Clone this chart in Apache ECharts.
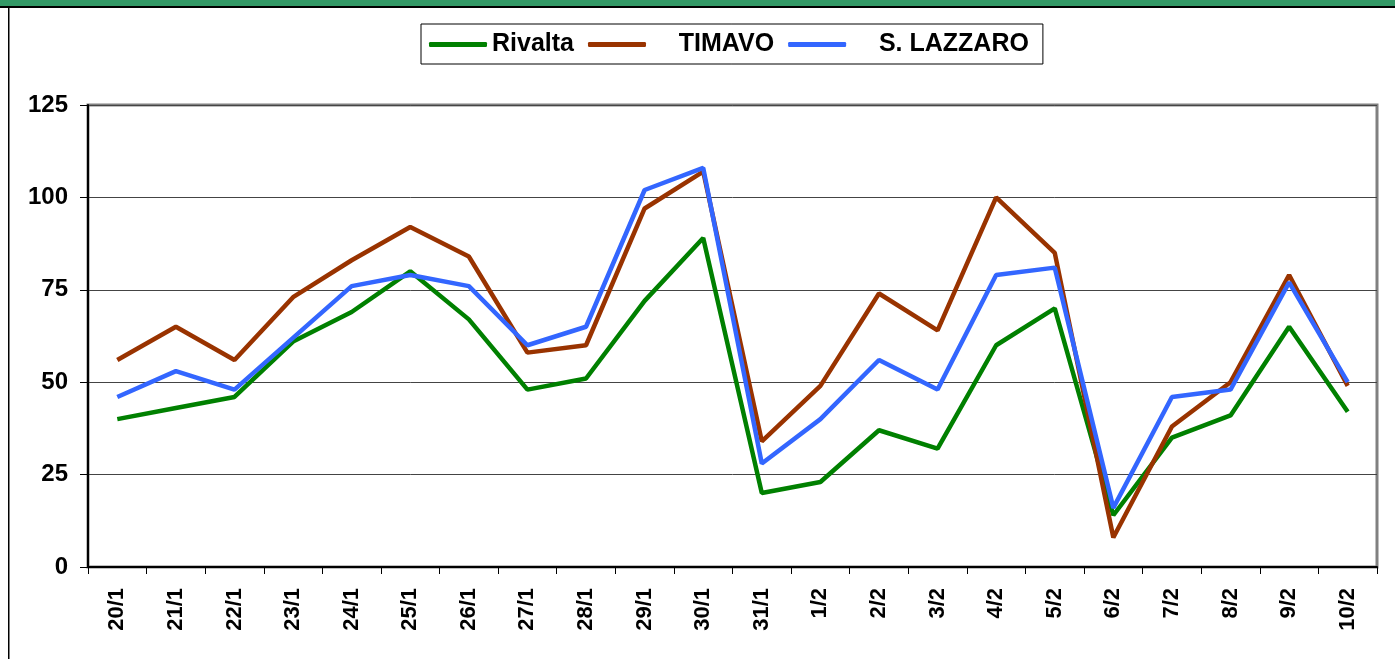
<!DOCTYPE html>
<html lang="it">
<head>
<meta charset="UTF-8">
<title>Rivalta / TIMAVO / S. LAZZARO</title>
<style>
    html, body { margin: 0; padding: 0; background: #fff; }
    #main { width: 1395px; height: 659px; }
</style>
</head>
<body>
<div id="main"></div>
<script src="https://cdn.jsdelivr.net/npm/echarts@6/dist/echarts.min.js"></script>
<script>
    // dati
    var giorni = ['20/1','21/1','22/1','23/1','24/1','25/1','26/1','27/1','28/1','29/1','30/1','31/1',
                  '1/2','2/2','3/2','4/2','5/2','6/2','7/2','8/2','9/2','10/2'];
    var rivalta   = [40, 43, 46, 61, 69, 80, 67, 48, 51, 72, 89, 20, 23, 37, 32, 60, 70, 14, 35, 41, 65, 42];
    var timavo    = [56, 65, 56, 73, 83, 92, 84, 58, 60, 97, 107, 34, 49, 74, 64, 100, 85, 8, 38, 50, 79, 49];
    var sLazzaro  = [46, 53, 48, 62, 76, 79, 76, 60, 65, 102, 108, 28, 40, 56, 48, 79, 81, 16, 46, 48, 77, 50];
    var yTicks    = [0, 25, 50, 75, 100, 125];

    var font = 'Liberation Sans, Arial, sans-serif';
    var myChart = echarts.init(document.getElementById('main'));

    function serie(nome, dati, colore) {
        return {
            name: nome,
            type: 'line',
            data: dati,
            symbol: 'none',
            lineStyle: { color: colore, width: 4.5 },
            itemStyle: { color: colore }
        };
    }

    var option = {
        animation: false,
        backgroundColor: '#fff',
        textStyle: { fontFamily: font },
        graphic: [
            // fascia verde del titolo (tagliata in alto)
            { type: 'rect', left: 0, top: 0, shape: { width: 1395, height: 6 }, style: { fill: '#339966' } },
            { type: 'rect', left: 0, top: 6, shape: { width: 1395, height: 2 }, style: { fill: '#000' } },
            { type: 'rect', left: 8, top: 7, shape: { width: 1.5, height: 652 }, style: { fill: '#000' } }
        ],
        legend: {
            left: 421,
            top: 24,
            padding: [8, 14, 7, 8],
            itemGap: 14,
            itemWidth: 58,
            itemHeight: 5,
            icon: 'roundRect',
            borderColor: '#000',
            borderWidth: 1,
            backgroundColor: '#fff',
            formatter: function (name) {
                return name === 'Rivalta' ? name : '    ' + name;
            },
            textStyle: { fontFamily: font, fontSize: 25, fontWeight: 'bold', color: '#000' },
            data: ['Rivalta', 'TIMAVO', 'S. LAZZARO']
        },
        grid: {
            left: 88,
            right: 18,
            top: 105,
            bottom: 92,
            show: true,
            borderColor: '#808080',
            borderWidth: 3
        },
        xAxis: {
            type: 'category',
            data: giorni,
            boundaryGap: true,
            axisLine: { lineStyle: { color: '#000', width: 2 } },
            axisTick: { show: true, length: 7, lineStyle: { color: '#000', width: 1 } },
            axisLabel: {
                rotate: 90,
                margin: 21,
                interval: 0,
                fontFamily: font,
                fontSize: 22,
                fontWeight: 'bold',
                color: '#000'
            }
        },
        yAxis: {
            type: 'value',
            min: yTicks[0],
            max: yTicks[yTicks.length - 1],
            interval: 25,
            axisLine: { show: true, lineStyle: { color: '#000', width: 2 } },
            axisTick: { show: true, length: 8, lineStyle: { color: '#000', width: 1 } },
            splitLine: { lineStyle: { color: '#444', width: 1 } },
            axisLabel: {
                margin: 20,
                fontFamily: font,
                fontSize: 24,
                fontWeight: 'bold',
                color: '#000'
            }
        },
        series: [
            serie('Rivalta', rivalta, '#008000'),
            serie('TIMAVO', timavo, '#993300'),
            serie('S. LAZZARO', sLazzaro, '#3366FF')
        ]
    };

    myChart.setOption(option);
</script>
</body>
</html>
